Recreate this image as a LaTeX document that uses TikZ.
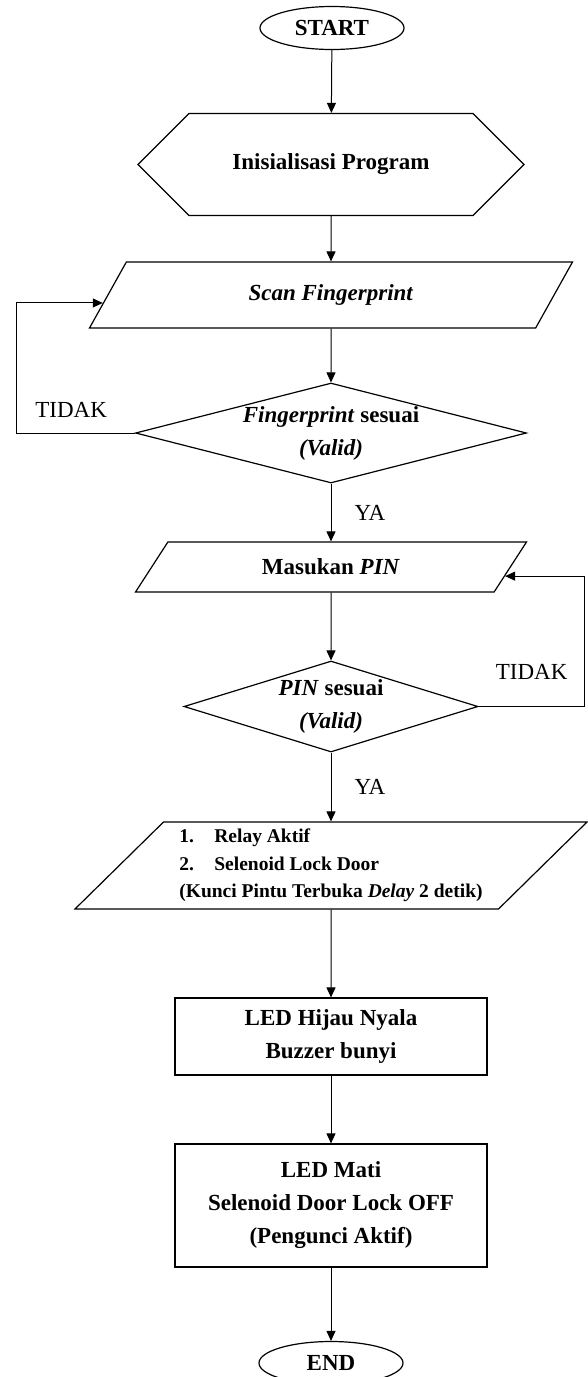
\documentclass[tikz,border=0pt]{standalone}
\usepackage{fontspec}
\setmainfont{Liberation Serif}
\usetikzlibrary{shapes.geometric, shapes.misc, arrows.meta, positioning, calc}
\tikzset{
  base/.style={draw, line width=1.2pt, align=center, font=\fontsize{23}{33}\selectfont\bfseries},
  terminal/.style={base, ellipse, minimum width=144pt, minimum height=43pt, inner sep=0pt},
  prep/.style={base, chamfered rectangle, chamfered rectangle xsep=19pt, chamfered rectangle ysep=40.5pt, minimum width=386pt, minimum height=81pt, inner sep=0pt},
  io/.style={base, trapezium, trapezium stretches body, inner sep=2pt},
  decision/.style={base, diamond, inner sep=-2pt},
  process/.style={base, rectangle, minimum width=312pt, inner sep=0pt},
  flow/.style={-{Triangle[length=10pt, width=9pt]}, line width=1pt},
  tag/.style={font=\fontsize{23}{28}\selectfont, inner sep=0pt}
}

\begin{document}
\begin{tikzpicture}[x=1pt, y=-1pt]
  \useasboundingbox[fill=white] (0,0) rectangle (587,1377);

  % Blocks
  \node[terminal] (start) at (332, 28) {START};
  \node[prep] (init) at (331, 164.5) {Inisialisasi Program};
  \node[io, trapezium left angle=34, trapezium right angle=146, minimum width=483pt, minimum height=66pt] (scan) at (331, 295) {\textit{Scan Fingerprint}};
  \node[decision, aspect=3.9, minimum width=391pt, minimum height=100pt] (fpcheck) at (331, 433) {\textit{Fingerprint} sesuai\\\textit{(Valid)}};
  \node[io, trapezium left angle=32, trapezium right angle=148, minimum width=391pt, minimum height=50pt] (masuk) at (331, 567) {Masukan \textit{PIN}};
  \node[decision, aspect=3.2, minimum width=294pt, minimum height=91pt] (pincheck) at (331, 706.5) {\textit{PIN} sesuai\\\textit{(Valid)}};
  \node[io, trapezium left angle=41, trapezium right angle=139, minimum width=512pt, minimum height=87pt, align=left, font=\fontsize{19.5}{27.5}\selectfont\bfseries] (relay) at (331, 865.5) {\makebox[35pt][l]{1.}Relay Aktif\\\makebox[35pt][l]{2.}Selenoid Lock Door\\(Kunci Pintu Terbuka \textit{Delay} 2 detik)};
  \node[process, minimum height=77pt] (ledon) at (331, 1036.5) {LED Hijau Nyala\\Buzzer bunyi};
  \node[process, minimum height=123pt] (ledoff) at (331, 1205.5) {LED Mati\\Selenoid Door Lock OFF\\(Pengunci Aktif)};
  \node[terminal] (stop) at (331, 1363) {END};

  % Main flow
  \draw[flow] (start) -- (init);
  \draw[flow] (init) -- (scan);
  \draw[flow] (scan) -- (fpcheck);
  \draw[flow] (fpcheck) -- node[tag, right=23pt] {YA} (masuk);
  \draw[flow] (masuk) -- (pincheck);
  \draw[flow] (pincheck) -- node[tag, right=23pt] {YA} (relay);
  \draw[flow] (relay) -- (ledon);
  \draw[flow] (ledon) -- (ledoff);
  \draw[flow] (ledoff) -- (stop);

  % Loops back
  \draw[flow] (fpcheck.west) -- node[tag, above=15pt, pos=0.54] {TIDAK} ++(-118,0) |- (scan.182);
  \draw[flow] (pincheck.east) -- node[tag, above=26pt] {TIDAK} ++(106,0) |- (masuk.-3);
\end{tikzpicture}
\end{document}
